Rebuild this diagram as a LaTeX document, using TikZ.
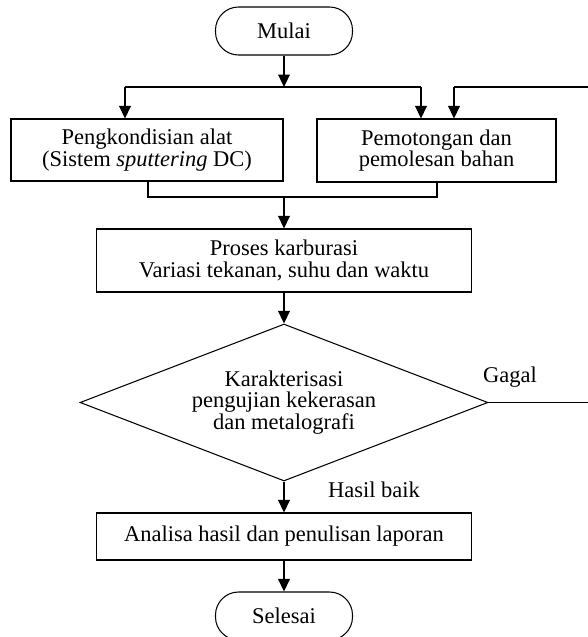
\documentclass[tikz,border=0pt]{standalone}
\usepackage{fontspec}
\setmainfont{Liberation Serif}
\usetikzlibrary{shapes.geometric, arrows.meta}

\begin{document}
\begin{tikzpicture}[x=0.02cm, y=-0.02cm,
        font=\fontsize{12.8}{12.4}\selectfont,
        terminal/.style={draw, rounded corners=0.46cm, minimum width=2.74cm, minimum height=0.96cm, line width=0.6pt},
        process/.style={draw, align=center, line width=0.6pt, inner sep=0pt},
        decision/.style={draw, diamond, aspect=2.6, align=center, minimum width=8.16cm, minimum height=3.14cm, line width=0.6pt, inner sep=0pt},
        flow/.style={-{Triangle[length=0.25cm, width=0.23cm]}, line width=1.3pt},
        link/.style={line width=0.6pt}]

        \useasboundingbox (0,0) rectangle (588,637);

        % Start
        \node[terminal] (mulai) at (284,31) {Mulai};

        % Preparation
        \node[process, minimum width=5.44cm, minimum height=1.24cm] (kondisi) at (147,150) {Pengkondisian alat\\(Sistem \textit{sputtering} DC)};
        \node[process, minimum width=4.78cm, minimum height=1.26cm] (potong) at (436.5,150.5) {Pemotongan dan\\pemolesan bahan};

        % Carburizing
        \node[process, minimum width=7.52cm, minimum height=1.26cm] (karburasi) at (284,260.5) {Proses karburasi\\Variasi tekanan, suhu dan waktu};

        % Testing
        \node[decision] (uji) at (284,402.5) {Karakterisasi\\pengujian kekerasan\\dan metalografi};
        \node (gagal) at (510,377) {Gagal};
        \node (baik) at (374,490) {Hasil baik};

        % Report and end
        \node[process, minimum width=7.5cm, minimum height=0.94cm] (analisa) at (284,536.5) {Analisa hasil dan penulisan laporan};
        \node[terminal] (selesai) at (284,616) {Selesai};

        % Split
        \coordinate (split) at (284,87);
        \coordinate (splitL) at (125,87);
        \coordinate (splitR) at (421,87);
        \draw[flow] (mulai) -- (split);
        \draw[link] (splitL) -- (splitR);
        \draw[flow] (splitL) -- (splitL |- kondisi.north);
        \draw[flow] (splitR) -- (splitR |- potong.north);

        % Merge
        \coordinate (mergeL) at (148,197);
        \coordinate (mergeR) at (437,197);
        \coordinate (merge) at (284,197);
        \draw[link] (kondisi.south -| mergeL) -- (mergeL) -- (mergeR) -- (potong.south -| mergeR);
        \draw[flow] (merge) -- (karburasi);

        % Main flow
        \draw[flow] (karburasi) -- (uji);
        \draw[flow] (uji) -- (analisa);
        \draw[flow] (analisa) -- (selesai);

        % Feedback (its riser lies just past the right edge)
        \coordinate (backR) at (591,402.5);
        \coordinate (backT) at (591,87);
        \coordinate (backL) at (454,87);
        \draw[link] (uji.east) -- (backR) -- (backT) -- (backL);
        \draw[flow] (backL) -- (backL |- potong.north);
\end{tikzpicture}
\end{document}
